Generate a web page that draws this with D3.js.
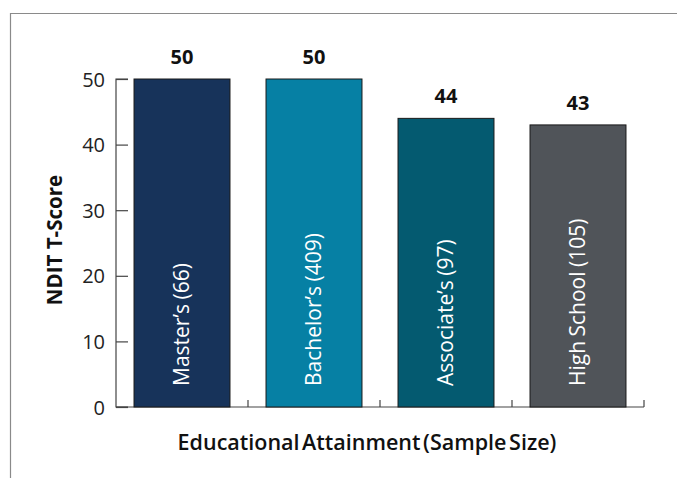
<!DOCTYPE html>
<html><head><meta charset="utf-8">
<script src="https://cdn.jsdelivr.net/npm/d3@7"></script>
<style>body{margin:0;background:#fff}svg{display:block}text{font-family:"Open Sans","Noto Sans",sans-serif}</style>
</head><body>
<svg id="c" width="677" height="478"></svg>
<script>
const categories = ["Master\u2019s (66)", "Bachelor\u2019s (409)", "Associate\u2019s (97)", "High School (105)"];
const values = [50, 50, 44, 43];
const colors = ["#17335a", "#0680a4", "#045a70", "#505459"];
const yTicks = [0, 10, 20, 30, 40, 50];
const yTitle = "NDIT T-Score";
const xTitle = "Educational Attainment (Sample Size)";

const svg = d3.select("#c");
// frame
svg.append("path").attr("d", "M10.5,478V13.5H677").attr("fill", "none").attr("stroke", "#8a8a8a").attr("stroke-width", 1.2);

const x = d3.scaleBand().domain(categories).range([116, 644]).paddingInner(0.273).paddingOuter(0.1365);
const y = d3.scaleLinear().domain([0, 50]).range([407, 79]);

// y axis
const ya = svg.append("g").attr("transform", "translate(116,0)")
  .call(d3.axisRight(y).tickValues(yTicks).tickSize(12).tickFormat(d3.format("d")));
ya.select(".domain").attr("stroke", "#444").attr("stroke-width", 1.2).attr("d", `M12,${y(50)}H0V${y(0)}H12`);
ya.selectAll(".tick line").attr("stroke", "#444").attr("stroke-width", 1.2);
ya.selectAll(".tick text").attr("x", -11).attr("text-anchor", "end").attr("font-size", 20).attr("fill", "#222").attr("dy", "0.35em");

// x baseline & ticks
const step = x.step();
svg.append("line").attr("x1", 116).attr("x2", 644).attr("y1", y(0)).attr("y2", y(0)).attr("stroke", "#444").attr("stroke-width", 1.2);
const bounds = categories.map(c => x(c) - (step - x.bandwidth()) / 2 + step);
svg.selectAll(".xt").data(bounds).join("line")
  .attr("x1", d => d).attr("x2", d => d).attr("y1", y(0)).attr("y2", y(0) - 7)
  .attr("stroke", "#444").attr("stroke-width", 1.2);

// bars
svg.selectAll(".bar").data(values).join("rect")
  .attr("x", (d, i) => x(categories[i])).attr("width", x.bandwidth())
  .attr("y", d => y(d)).attr("height", d => y(0) - y(d))
  .attr("fill", (d, i) => colors[i]).attr("stroke", "#1a1a1a").attr("stroke-width", 1);

// value labels
svg.selectAll(".val").data(values).join("text")
  .attr("x", (d, i) => x(categories[i]) + x.bandwidth() / 2).attr("y", d => y(d) - 15)
  .attr("text-anchor", "middle").attr("font-size", 20).attr("font-weight", 700).attr("fill", "#111")
  .text(d => d);

// in-bar labels
svg.selectAll(".lab").data(categories).join("text")
  .attr("transform", c => `translate(${x(c) + x.bandwidth() / 2 + 7},386) rotate(-90)`)
  .attr("font-size", 21).attr("fill", "#fff").attr("word-spacing", -1)
  .text(c => c);

// titles
svg.append("text").attr("transform", "translate(62,240) rotate(-90)").attr("text-anchor", "middle")
  .attr("font-size", 20.5).attr("font-weight", 700).attr("fill", "#111").text(yTitle);
svg.append("text").attr("x", 367).attr("y", 450).attr("text-anchor", "middle").attr("word-spacing", -3)
  .attr("font-size", 21.5).attr("font-weight", 600).attr("fill", "#111").text(xTitle);
</script>
</body></html>
